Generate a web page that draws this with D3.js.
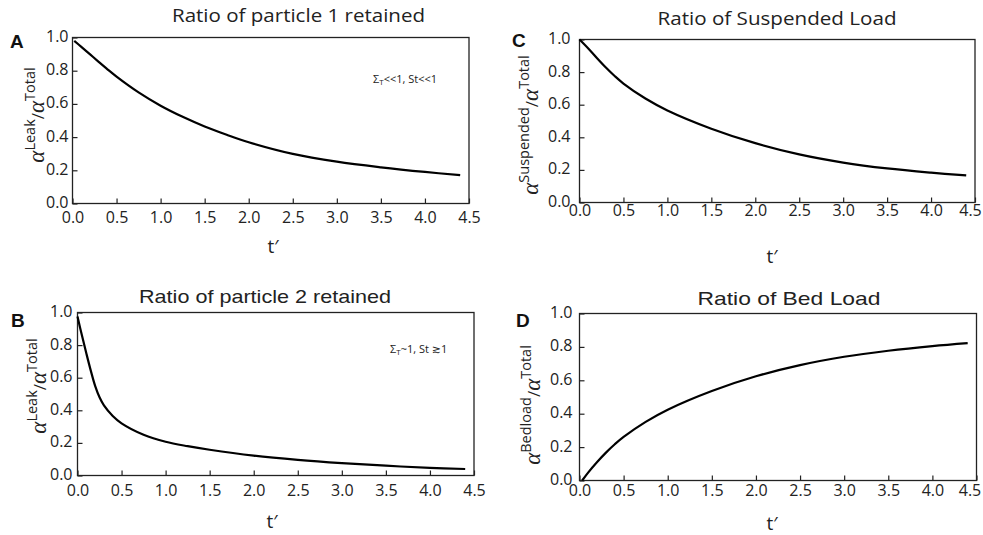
<!DOCTYPE html>
<html>
<head>
<meta charset="utf-8">
<script src="https://cdn.jsdelivr.net/npm/d3@7"></script>
<style>
body { margin: 0; background: #fff; }
</style>
</head>
<body>
<div id="chart"></div>
<script>
"use strict";

// tick values shared by all four panels
const xTicks = [0, 0.5, 1.0, 1.5, 2.0, 2.5, 3.0, 3.5, 4.0, 4.5];
const yTicks = [0, 0.2, 0.4, 0.6, 0.8, 1.0];

// A - particle 1 retained
const tA = [0.02, 0.1, 0.2, 0.3, 0.4, 0.5, 0.75, 1.0, 1.25, 1.5, 1.75, 2.0, 2.5, 3.0, 3.5, 4.0, 4.4];
const leakA = [0.98, 0.944, 0.898, 0.852, 0.807, 0.764, 0.669, 0.589, 0.522, 0.464, 0.414, 0.369, 0.299, 0.252, 0.218, 0.19, 0.171];

// B - particle 2 retained
const tB = [0.0, 0.05, 0.1, 0.15, 0.2, 0.25, 0.3, 0.4, 0.5, 0.75, 1.0, 1.25, 1.5, 2.0, 2.5, 3.0, 3.5, 4.0, 4.4];
const leakB = [0.975, 0.86, 0.75, 0.645, 0.55, 0.48, 0.43, 0.365, 0.32, 0.25, 0.207, 0.18, 0.158, 0.122, 0.096, 0.076, 0.06, 0.047, 0.04];

// C - suspended load
const tC = [0.0, 0.1, 0.2, 0.3, 0.4, 0.5, 0.75, 1.0, 1.5, 2.0, 2.5, 3.0, 3.5, 4.0, 4.4];
const suspendedC = [1.0, 0.945, 0.885, 0.828, 0.776, 0.73, 0.638, 0.565, 0.453, 0.364, 0.295, 0.245, 0.209, 0.183, 0.166];

// D - bed load
const tD = [0.03, 0.1, 0.2, 0.3, 0.4, 0.5, 0.75, 1.0, 1.5, 2.0, 2.5, 3.0, 3.5, 4.0, 4.4];
const bedloadD = [0.0, 0.049, 0.111, 0.167, 0.217, 0.261, 0.351, 0.424, 0.536, 0.624, 0.691, 0.741, 0.777, 0.805, 0.823];

const WIDTH = 983, HEIGHT = 535;
const sans = "'Open Sans', 'DejaVu Sans', sans-serif";
const arial = "'Liberation Sans', Arial, sans-serif";

const svg = d3.select("#chart").append("svg")
	.attr("width", WIDTH)
	.attr("height", HEIGHT);

// one panel = box, ticks, curve and all the labels round it
function drawPanel(p, tValues, yValues) {
	let x = d3.scaleLinear().domain([0, 4.5]).range([p.left, p.right]);
	let y = d3.scaleLinear().domain([0, 1]).range([p.bottom, p.top]);

	let g = svg.append("g");

	// x axis, ticks pointing inward
	let xAxis = g.append("g")
		.attr("transform", "translate(0," + p.bottom + ")")
		.call(d3.axisBottom(x).tickValues(xTicks).tickFormat(d3.format(".1f"))
			.tickSize(-5).tickPadding(p.xPad));
	xAxis.select(".domain").remove();
	// last label sits a bit left in the original (page edge)
	if (p.lastShift) {
		xAxis.selectAll(".tick text").filter(function (d) { return d == 4.5; }).attr("dx", p.lastShift);
	}

	let yAxis = g.append("g")
		.attr("transform", "translate(" + p.left + ",0)")
		.call(d3.axisLeft(y).tickValues(yTicks).tickFormat(d3.format(".1f"))
			.tickSize(-5).tickPadding(p.yPad));
	yAxis.select(".domain").remove();
	yAxis.selectAll(".tick text").attr("dy", "0.25em");

	g.selectAll(".tick line").attr("stroke", "#222").attr("stroke-width", 1.2);
	g.selectAll(".tick text")
		.style("font-family", sans)
		.style("font-size", "16px")
		.attr("fill", "#222");

	// frame
	g.append("rect")
		.attr("x", p.left)
		.attr("y", p.top)
		.attr("width", p.right - p.left)
		.attr("height", p.bottom - p.top)
		.attr("fill", "none")
		.attr("stroke", "#222")
		.attr("stroke-width", 1.3);

	let line = d3.line()
		.x(function (d, i) { return x(tValues[i]); })
		.y(function (d) { return y(d); })
		.curve(d3.curveCatmullRom.alpha(0.5));

	g.append("path")
		.datum(yValues)
		.attr("d", line)
		.attr("fill", "none")
		.attr("stroke", "#000")
		.attr("stroke-width", 2.2);

	// title
	g.append("text")
		.attr("x", p.titleX)
		.attr("y", p.titleY)
		.attr("text-anchor", "middle")
		.attr("textLength", p.titleW)
		.attr("lengthAdjust", "spacingAndGlyphs")
		.style("font-family", p.titleFont)
		.style("font-size", "19px")
		.attr("fill", "#222")
		.text(p.title);

	// panel letter
	g.append("text")
		.attr("x", p.letterX)
		.attr("y", p.letterY)
		.style("font-family", arial)
		.style("font-weight", "bold")
		.style("font-size", "19px")
		.attr("fill", "#111")
		.text(p.letter);

	// x label
	g.append("text")
		.attr("x", p.tX)
		.attr("y", p.tY)
		.attr("text-anchor", "middle")
		.style("font-family", sans)
		.style("font-size", "19px")
		.attr("fill", "#222")
		.text("t\u2032");

	// y label: alpha^sup / alpha^Total
	let yl = g.append("text")
		.attr("transform", "translate(" + p.ylabX + "," + p.ylabY + ") rotate(-90)")
		.attr("text-anchor", "middle")
		.attr("fill", "#222")
		.style("font-family", sans);
	yl.append("tspan")
		.style("font-family", "'Liberation Serif', serif")
		.style("font-style", "italic")
		.style("font-size", "23px")
		.text("\u03b1");
	yl.append("tspan")
		.attr("dy", -9)
		.style("font-size", "14.5px")
		.text(p.sup);
	yl.append("tspan")
		.attr("dy", 9)
		.style("font-size", "17px")
		.text("/");
	yl.append("tspan")
		.style("font-family", "'Liberation Serif', serif")
		.style("font-style", "italic")
		.style("font-size", "23px")
		.text("\u03b1");
	yl.append("tspan")
		.attr("dy", -9)
		.style("font-size", "14.5px")
		.text("Total");

	// regime note
	if (p.note) {
		let nt = g.append("text")
			.attr("x", p.noteX)
			.attr("y", p.noteY)
			.attr("fill", "#222")
			.style("font-family", sans)
			.style("font-size", "11px");
		nt.append("tspan").text("\u03a3");
		nt.append("tspan").attr("dy", 2).style("font-size", "8px").text("T");
		nt.append("tspan").attr("dy", -2).text(p.note);
	}
}

drawPanel({
	left: 72.5, top: 37.5, right: 469, bottom: 203.5,
	title: "Ratio of particle 1 retained", titleX: 298.5, titleY: 22, titleW: 253, titleFont: sans,
	letter: "A", letterX: 10, letterY: 48,
	xPad: 8.5, yPad: 4, tX: 273, tY: 253,
	ylabX: 44, ylabY: 115, sup: "Leak",
	note: "<<1, St<<1", noteX: 373, noteY: 83
}, tA, leakA);

drawPanel({
	left: 77.5, top: 312.5, right: 474, bottom: 475.5,
	title: "Ratio of particle 2 retained", titleX: 265, titleY: 303, titleW: 252, titleFont: arial,
	letter: "B", letterX: 11, letterY: 327,
	xPad: 9.5, yPad: 5, tX: 272, tY: 528,
	ylabX: 46, ylabY: 386, sup: "Leak",
	note: "~1, St \u22731", noteX: 390, noteY: 353
}, tB, leakB);

drawPanel({
	left: 579.5, top: 39.5, right: 975, bottom: 202.5,
	title: "Ratio of Suspended Load", titleX: 777, titleY: 25, titleW: 239, titleFont: sans,
	letter: "C", letterX: 512, letterY: 47,
	xPad: 2.5, yPad: 9, tX: 772, tY: 263, lastShift: -5,
	ylabX: 538, ylabY: 125, sup: "Suspended"
}, tC, suspendedC);

drawPanel({
	left: 579.5, top: 313.5, right: 976.5, bottom: 480.5,
	title: "Ratio of Bed Load", titleX: 789, titleY: 305, titleW: 183, titleFont: arial,
	letter: "D", letterX: 516, letterY: 327,
	xPad: 4, yPad: 7, tX: 772, tY: 530, lastShift: -7,
	ylabX: 540, ylabY: 405, sup: "Bedload"
}, tD, bedloadD);
</script>
</body>
</html>
